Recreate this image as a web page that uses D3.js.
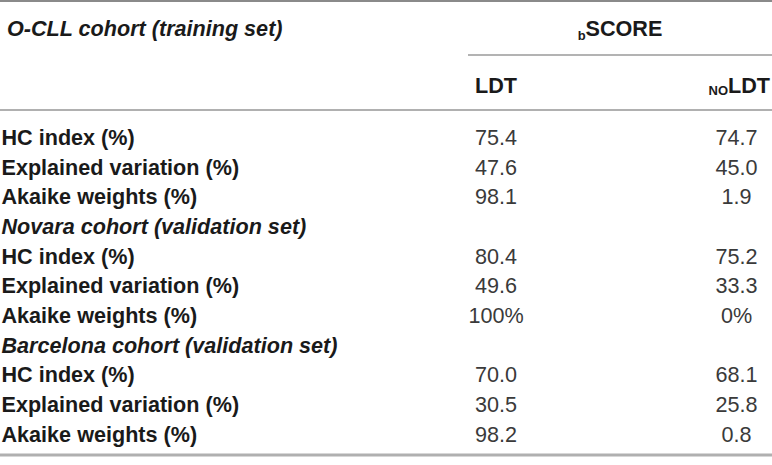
<!DOCTYPE html>
<html>
<head>
<meta charset="utf-8">
<script src="https://cdn.jsdelivr.net/npm/d3@7"></script>
<style>
  html, body { margin: 0; padding: 0; background: #fff; }
  svg { display: block; }
  text { font-family: "Liberation Sans", Arial, Helvetica, sans-serif; }
</style>
</head>
<body>
<div id="chart"></div>
<script>
// ---- data ----
const cohorts = ["O-CLL cohort (training set)", "Novara cohort (validation set)", "Barcelona cohort (validation set)"];
const metrics = ["HC index (%)", "Explained variation (%)", "Akaike weights (%)"];
const groupLabel = "SCORE";
const groupSub = "b";
const columns = [{sub: "", name: "LDT"}, {sub: "NO", name: "LDT"}];
const ldtValues = [["75.4", "47.6", "98.1"], ["80.4", "49.6", "100%"], ["70.0", "30.5", "98.2"]];
const noldtValues = [["74.7", "45.0", "1.9"], ["75.2", "33.3", "0%"], ["68.1", "25.8", "0.8"]];

// ---- build row list ----
const rows = [];
cohorts.forEach((c, ci) => {
  if (ci > 0) rows.push({type: "cohort", label: c});
  metrics.forEach((m, mi) => rows.push({type: "metric", label: m, v: [ldtValues[ci][mi], noldtValues[ci][mi]]}));
});

const W = 772, H = 465;
const FS = 21.6;
const svg = d3.select("#chart").append("svg").attr("width", W).attr("height", H);

const y = d3.scaleLinear().domain([0, rows.length - 1]).range([145, 441.5]);
const x = d3.scaleOrdinal().domain(["label", "c0", "c1"]).range([1.5, 496, 736.5]);

// rules
const rule = (y0, x0, x1, w, col) => svg.append("line").attr("x1", x0).attr("x2", x1)
  .attr("y1", y0).attr("y2", y0).attr("stroke", col).attr("stroke-width", w);
rule(1, 0, W, 2, "#8a8a8a");
rule(55, 468, W, 1.6, "#9a9a9a");
rule(110, 0, W, 2.2, "#b0b0b0");
rule(455, 0, W, 3, "#b0b0b0");

// header
svg.append("text").attr("x", 7).attr("y", 36)
  .attr("font-size", FS).attr("font-weight", "bold").attr("font-style", "italic").attr("fill", "#1a1a1a")
  .text(cohorts[0]);

const g = svg.append("text").attr("x", 620).attr("y", 36).attr("text-anchor", "middle")
  .attr("font-size", FS).attr("font-weight", "bold").attr("fill", "#1a1a1a");
g.append("tspan").attr("font-size", 13).attr("dy", 4).text(groupSub);
g.append("tspan").attr("dy", -4).text(groupLabel);

const hdrX = [{x: 475, anchor: "start"}, {x: 770, anchor: "end"}];
columns.forEach((c, i) => {
  const t = svg.append("text").attr("x", hdrX[i].x).attr("y", 93).attr("text-anchor", hdrX[i].anchor)
    .attr("font-size", FS).attr("font-weight", "bold").attr("fill", "#1a1a1a");
  if (c.sub) {
    t.append("tspan").attr("font-size", 13).attr("dy", 1.5).text(c.sub);
    t.append("tspan").attr("dy", -1.5).text(c.name);
  } else {
    t.text(c.name);
  }
});

// body rows
const rg = svg.append("g").selectAll("g").data(rows).join("g")
  .attr("transform", (d, i) => `translate(0,${y(i)})`);

rg.append("text").attr("x", (d) => d.type === "cohort" ? 1.5 : x("label"))
  .attr("font-size", FS).attr("font-weight", "bold")
  .attr("font-style", d => d.type === "cohort" ? "italic" : "normal")
  .attr("fill", "#1a1a1a")
  .text(d => d.label);

rg.filter(d => d.type === "metric").selectAll("text.val").data(d => d.v).join("text")
  .attr("class", "val")
  .attr("x", (v, j) => x("c" + j)).attr("text-anchor", "middle")
  .attr("font-size", FS).attr("fill", "#3a3a3a")
  .text(v => v);
</script>
</body>
</html>
